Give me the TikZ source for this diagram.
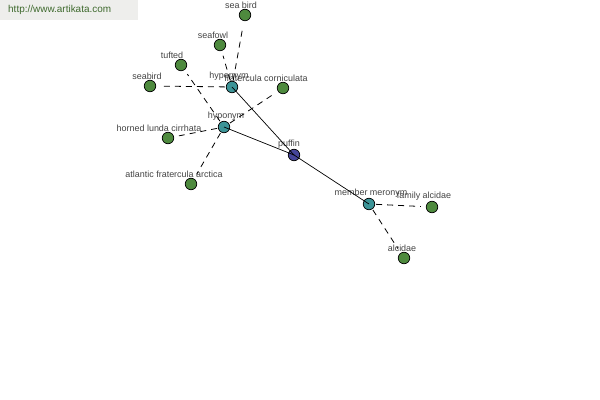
\documentclass[tikz,border=0pt]{standalone}
\usepackage{fontspec}
\setmainfont{Liberation Sans}
\definecolor{leafgreen}{HTML}{4E8A3E}
\definecolor{relteal}{HTML}{3C9497}
\definecolor{wordblue}{HTML}{45459A}
\definecolor{labelgray}{HTML}{444444}
\definecolor{headgray}{HTML}{EEEEEC}
\definecolor{headgreen}{HTML}{3F6A2E}
\begin{document}
\begin{tikzpicture}[>=latex,line join=bevel,
  vtx/.style={circle,draw=black,line width=0.7bp,inner sep=0pt,minimum size=11.5bp},
  leaf/.style={vtx,fill=leafgreen},
  rel/.style={vtx,fill=relteal},
  word/.style={vtx,fill=wordblue},
  lbl/.style={font=\fontsize{9}{10}\selectfont,text=labelgray,inner sep=0.5bp,label distance=0bp},
  link/.style={black,line width=0.8bp,dash pattern=on 6bp off 5bp,shorten >=5bp,shorten <=1bp},
  tie/.style={black,line width=0.7bp}]
%%
\useasboundingbox (0bp,0bp) rectangle (600bp,400bp);
\fill [headgray] (0bp,380bp) rectangle (138bp,400bp);
\node (site) at (8bp,390bp) [anchor=west,inner sep=0pt,text=headgreen,font=\fontsize{10}{11}\selectfont] {http://www.artikata.com};
%
\node (node_0) at (294bp,245bp) [word,label={[lbl,xshift=-5bp]above:puffin}] {};
  \node (node_1) at (232bp,313bp) [rel,label={[lbl,xshift=-3bp]above:hypernym}] {};
  \node (node_2) at (224bp,273bp) [rel,label={[lbl,xshift=2bp]above:hyponym}] {};
  \node (node_3) at (369bp,196bp) [rel,label={[lbl,xshift=2bp]above:member meronym}] {};
  \node (node_4) at (245bp,385bp) [leaf,label={[lbl,xshift=-4bp]above:sea bird}] {};
  \node (node_5) at (220bp,355bp) [leaf,label={[lbl,xshift=-7bp]above:seafowl}] {};
  \node (node_6) at (181bp,335bp) [leaf,label={[lbl,xshift=-9bp]above:tufted}] {};
  \node (node_7) at (150bp,314bp) [leaf,label={[lbl,xshift=-3bp]above:seabird}] {};
  \node (node_8) at (283bp,312bp) [leaf,label={[lbl,xshift=-17bp]above:fratercula corniculata}] {};
  \node (node_9) at (168bp,262bp) [leaf,label={[lbl,xshift=-9bp]above:horned lunda cirrhata}] {};
  \node (node_10) at (191bp,216bp) [leaf,label={[lbl,xshift=-17bp]above:atlantic fratercula arctica}] {};
  \node (node_11) at (432bp,193bp) [leaf,label={[lbl,xshift=-8bp]above:family alcidae}] {};
  \node (node_12) at (404bp,142bp) [leaf,label={[lbl,xshift=-2bp]above:alcidae}] {};
%
\begin{scope}[on background layer/.try]
  \draw [tie] (node_0.center) -- (node_1.center);
  \draw [tie] (node_0.center) -- (node_2.center);
  \draw [tie] (node_0.center) -- (node_3.center);
  \draw [link] (node_1) -- (node_4);
  \draw [link] (node_1) -- (node_5);
  \draw [link] (node_1) -- (node_7);
  \draw [link] (node_2) -- (node_6);
  \draw [link] (node_2) -- (node_8);
  \draw [link] (node_2) -- (node_9);
  \draw [link] (node_2) -- (node_10);
  \draw [link] (node_3) -- (node_11);
  \draw [link] (node_3) -- (node_12);
\end{scope}
%
\end{tikzpicture}
\end{document}
